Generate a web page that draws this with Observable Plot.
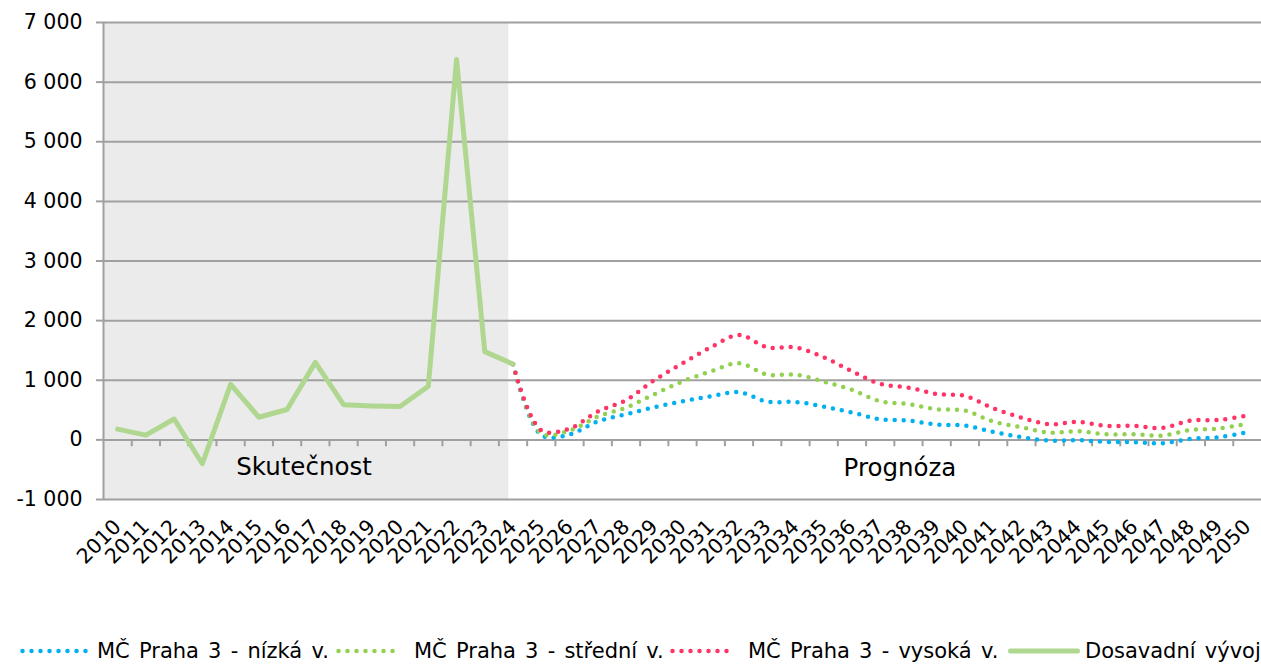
<!DOCTYPE html>
<html>
<head>
<meta charset="utf-8">
<script src="https://cdn.jsdelivr.net/npm/d3@7"></script>
<script src="https://cdn.jsdelivr.net/npm/@observablehq/plot@0.6"></script>
<style>
  html, body { margin: 0; padding: 0; background: #fff; }
  #wrap { position: relative; width: 1261px; height: 666px; overflow: hidden; font-family: "DejaVu Sans", Verdana, sans-serif; }
  #legend { position: absolute; left: 0; top: 636px; width: 1261px; height: 30px; font-size: 21px; color: #000; word-spacing: 2.5px; }
  .li { position: absolute; top: 0; height: 30px; display: flex; align-items: center; white-space: nowrap; }
  .li svg { display: block; }
</style>
</head>
<body>
<div id="wrap">
  <div id="chart"></div>
  <div id="legend"></div>
</div>
<script>
// ---- data ----
const allYears = [2010,2011,2012,2013,2014,2015,2016,2017,2018,2019,2020,2021,2022,2023,2024,2025,2026,2027,2028,2029,2030,2031,2032,2033,2034,2035,2036,2037,2038,2039,2040,2041,2042,2043,2044,2045,2046,2047,2048,2049,2050];
const actualYears = [2010,2011,2012,2013,2014,2015,2016,2017,2018,2019,2020,2021,2022,2023,2024];
const actualValues = [180, 80, 350, -400, 930, 380, 510, 1300, 590, 570, 560, 900, 6380, 1480, 1270];
const forecastYears = [2024,2025,2026,2027,2028,2029,2030,2031,2032,2033,2034,2035,2036,2037,2038,2039,2040,2041,2042,2043,2044,2045,2046,2047,2048,2049,2050];
const lowValues  = [1270, 80, 90, 310, 430, 547, 648, 732, 800, 640, 636, 558, 458, 346, 323, 257, 240, 134, 45, -11, -5, -33, -39, -56, 17, 45, 129];
const midValues  = [1270, 110, 155, 390, 541, 765, 980, 1150, 1285, 1094, 1094, 977, 838, 650, 600, 514, 491, 307, 212, 123, 145, 95, 95, 73, 167, 190, 273];
const highValues = [1270, 160, 190, 475, 665, 1000, 1284, 1552, 1759, 1552, 1550, 1385, 1150, 940, 876, 770, 737, 531, 374, 263, 300, 234, 234, 201, 323, 335, 407];
const yTicks = [-1000, 0, 1000, 2000, 3000, 4000, 5000, 6000, 7000];
const seriesNames = ["MČ Praha 3 - nízká v.", "MČ Praha 3 - střední v.", "MČ Praha 3 - vysoká v.", "Dosavadní vývoj"];
const seriesColors = ["#00b0f0", "#92d050", "#ff3366", "#b0d78f"];
const periodLabels = ["Skutečnost", "Prognóza"];
const periodLabelPos = [{x: 2016.6, y: -450}, {x: 2037.7, y: -480}];
const shade = [{x1: 2009.5, x2: 2023.85, y1: -1000, y2: 7000}];

// ---- tables ----
const actual = actualYears.map((year, i) => ({year, value: actualValues[i]}));
const forecast = forecastYears.map((year, i) => ({year, low: lowValues[i], mid: midValues[i], high: highValues[i]}));
const boundaries = allYears.slice(0, -1).map(y => y + 0.5);
const fmt = d => d3.format(",")(d).replace(/,/g, " ").replace("−", "-");
const gridColor = "#a0a0a0";
const dotted = {strokeWidth: 4.5, strokeDasharray: "0 9", strokeLinecap: "round", curve: "catmull-rom"};

const chart = Plot.plot({
  width: 1261,
  height: 636,
  marginLeft: 103,
  marginRight: 0,
  marginTop: 22,
  marginBottom: 137,
  style: {fontFamily: "DejaVu Sans, Verdana, sans-serif", fontSize: "20.5px", color: "#000", background: "#fff", overflow: "visible"},
  x: {type: "linear", domain: [2009.5, 2050.5]},
  y: {domain: [-1000, 7000]},
  marks: [
    Plot.rect(shade, {x1: "x1", x2: "x2", y1: "y1", y2: "y2", fill: "#ebebeb"}),
    Plot.ruleY(yTicks, {stroke: gridColor, strokeWidth: 2}),
    Plot.ruleX([2009.5], {stroke: gridColor, strokeWidth: 2}),
    Plot.ruleX(boundaries, {x: d => d, y1: 0, y2: -115, stroke: gridColor, strokeWidth: 2}),
    Plot.axisY({ticks: yTicks, tickFormat: fmt, tickSize: 7, tickPadding: 14, stroke: gridColor, strokeWidth: 2, label: null, fontSize: 20.5}),
    Plot.axisX({ticks: allYears, tickFormat: d => String(d), tickRotate: -45, tickSize: 0, tickPadding: 24, label: null, fontSize: 20.5}),
    Plot.text(periodLabels, {x: (d, i) => periodLabelPos[i].x, y: (d, i) => periodLabelPos[i].y, text: d => d, fontSize: 24.5, fill: "#000"}),
    Plot.line(forecast, {x: "year", y: "low", stroke: seriesColors[0], ...dotted}),
    Plot.line(forecast, {x: "year", y: "mid", stroke: seriesColors[1], ...dotted}),
    Plot.line(forecast, {x: "year", y: "high", stroke: seriesColors[2], ...dotted}),
    Plot.line(actual, {x: "year", y: "value", stroke: seriesColors[3], strokeWidth: 5, strokeLinejoin: "round"})
  ]
});
document.getElementById("chart").appendChild(chart);

// ---- legend ----
const legendPos = [{s: 20, w: 72, t: 97}, {s: 336, w: 66, t: 414}, {s: 670, w: 66, t: 748}, {s: 1008, w: 72, t: 1085}];
const legend = document.getElementById("legend");
seriesNames.forEach((name, i) => {
  const p = legendPos[i];
  const sw = document.createElement("div");
  sw.className = "li";
  sw.style.left = p.s + "px";
  const solid = i === 3;
  sw.innerHTML = `<svg width="${p.w}" height="12"><line x1="2.5" y1="6" x2="${p.w - 2.5}" y2="6" stroke="${seriesColors[i]}" stroke-width="${solid ? 5 : 4.5}" stroke-linecap="round" ${solid ? "" : 'stroke-dasharray="0 9"'}/></svg>`;
  legend.appendChild(sw);
  const tx = document.createElement("div");
  tx.className = "li";
  tx.style.left = p.t + "px";
  tx.textContent = name;
  legend.appendChild(tx);
});
</script>
</body>
</html>
